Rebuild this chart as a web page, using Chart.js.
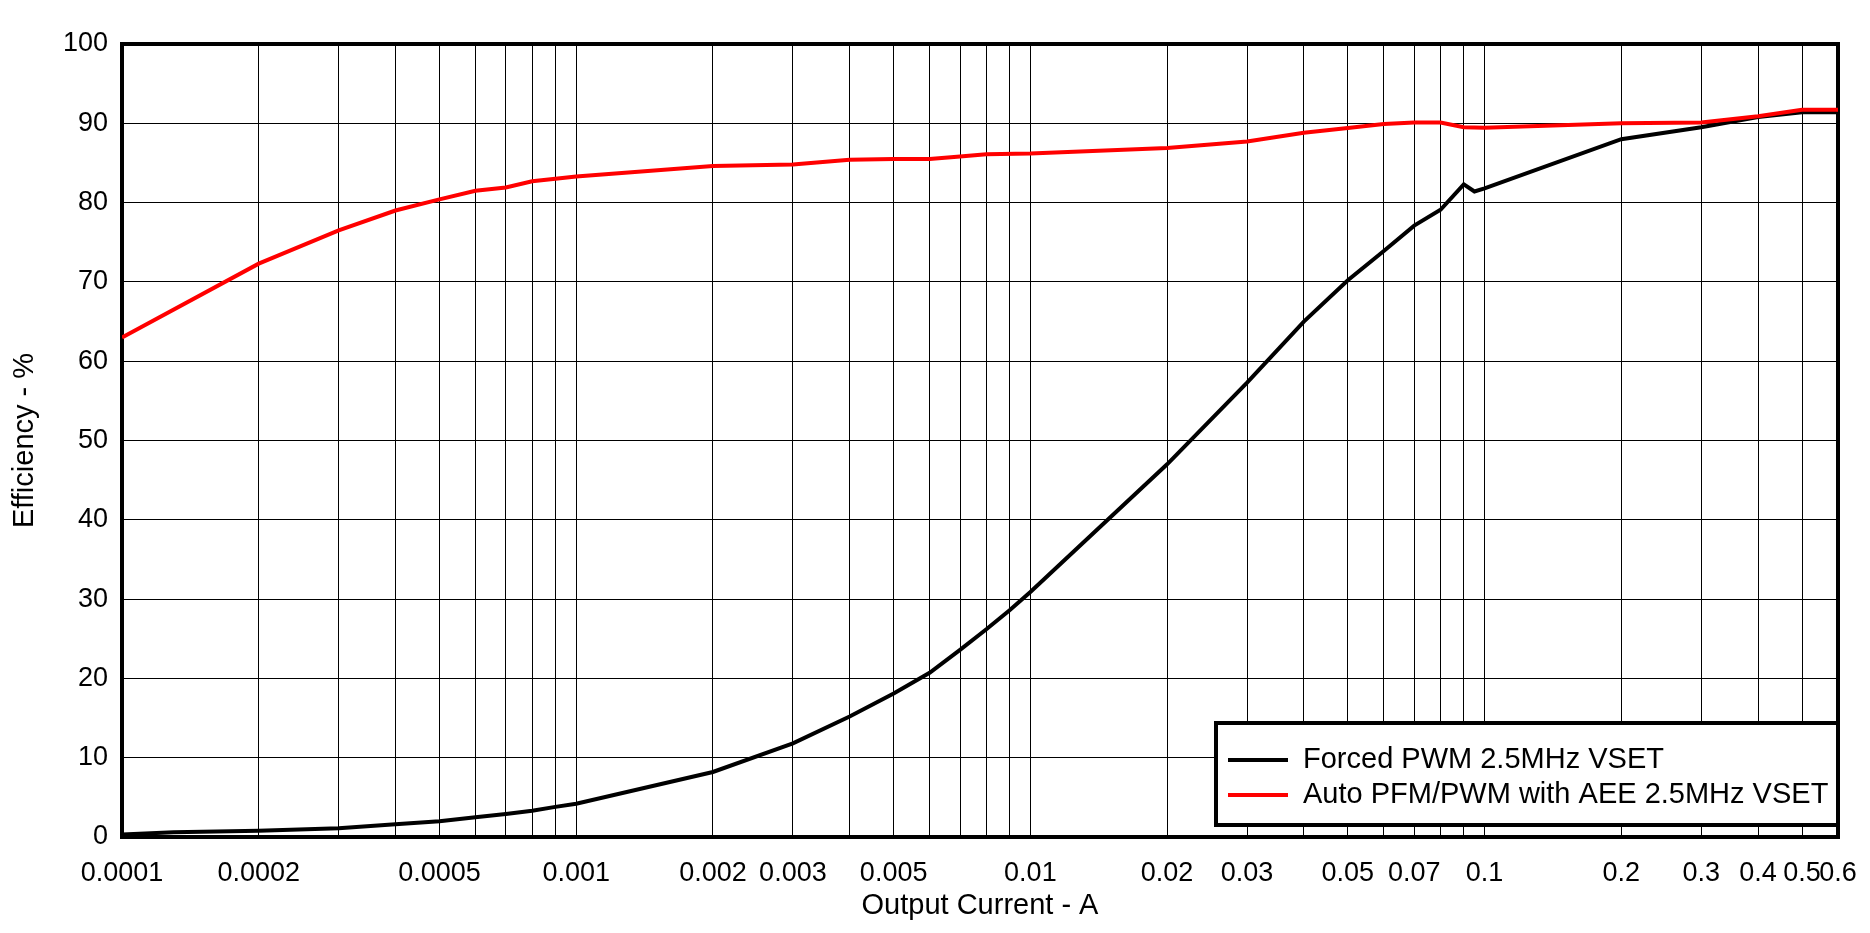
<!DOCTYPE html>
<html>
<head>
<meta charset="utf-8">
<script src="https://cdn.jsdelivr.net/npm/chart.js@4.4.1/dist/chart.umd.min.js"></script>
<style>
  body { margin: 0; background: #fff; }
  #wrap { width: 1870px; height: 933px; }
</style>
</head>
<body>
<div id="wrap"><canvas id="myChart" width="1870" height="933"></canvas></div>
<script>
// values
const forcedCurrent = [0.0001, 0.00013, 0.0002, 0.0003, 0.0004, 0.0005, 0.0006, 0.0007, 0.0008, 0.0009,
    0.001, 0.002, 0.003, 0.004, 0.005, 0.006, 0.007, 0.008, 0.009, 0.01,
    0.02, 0.03, 0.04, 0.05, 0.06, 0.07, 0.08, 0.09, 0.095, 0.1, 0.2, 0.3, 0.4, 0.5, 0.6];
const forcedEff = [0.3, 0.6, 0.8, 1.1, 1.6, 2.0, 2.5, 2.9, 3.3, 3.8,
    4.2, 8.2, 11.8, 15.2, 18.1, 20.7, 23.6, 26.2, 28.6, 30.9,
    47.0, 57.3, 65.0, 70.2, 73.9, 77.1, 79.1, 82.3, 81.4, 81.8, 88.0, 89.5, 90.8, 91.4, 91.4];

const autoCurrent = [0.0001, 0.0002, 0.0003, 0.0004, 0.0005, 0.0006, 0.0007, 0.0008, 0.0009,
    0.001, 0.002, 0.003, 0.004, 0.005, 0.006, 0.007, 0.008, 0.01,
    0.02, 0.03, 0.04, 0.05, 0.06, 0.07, 0.08, 0.09, 0.1, 0.2, 0.3, 0.4, 0.5, 0.6];
const autoEff = [63.0, 72.3, 76.5, 79.0, 80.4, 81.5, 81.9, 82.7, 83.0,
    83.3, 84.6, 84.8, 85.4, 85.5, 85.5, 85.8, 86.1, 86.2,
    86.9, 87.7, 88.8, 89.4, 89.9, 90.1, 90.1, 89.5, 89.45, 90.0, 90.1, 90.9, 91.7, 91.7];

const seriesNames = ["Forced PWM 2.5MHz VSET", "Auto PFM/PWM with AEE 2.5MHz VSET"];
const seriesColors = ["#000000", "#ff0000"];

const xTickLabels = ["0.0001", "0.0002", "0.0005", "0.001", "0.002", "0.003", "0.005",
    "0.01", "0.02", "0.03", "0.05", "0.07", "0.1", "0.2", "0.3", "0.4", "0.5", "0.6"];
const xMin = 0.0001;
const xMax = 0.6;

const fontFamily = "Arial, 'Liberation Sans', sans-serif";
const tickSize = 27;
const textSize = 29;

// one grid line for every 1..9 step of each decade
const xGrid = [];
for (let d = 0.0001; d < 1; d *= 10) {
    for (let m = 1; m <= 9; m++) {
        const v = Number((m * d).toPrecision(6));
        if (v <= xMax + 1e-9) xGrid.push(v);
    }
}

function toPoints(xs, ys) {
    return xs.map((x, i) => ({ x: x, y: ys[i] }));
}

const framePlugin = {
    id: "frame",
    beforeDatasetsDraw(chart) {
        const a = chart.chartArea;
        const ctx = chart.ctx;
        ctx.save();
        ctx.strokeStyle = "#000";
        ctx.lineWidth = 4;
        ctx.strokeRect(a.left, a.top, a.right - a.left, a.bottom - a.top);
        ctx.restore();
    }
};

const legendBox = {
    id: "legendBox",
    afterDatasetsDraw(chart) {
        const a = chart.chartArea;
        const ctx = chart.ctx;
        const w = 622, h = 102;
        const x = a.right - w, y = a.bottom - 12 - h;
        ctx.save();
        ctx.fillStyle = "#fff";
        ctx.fillRect(x, y, w, h);
        ctx.strokeStyle = "#000";
        ctx.lineWidth = 4;
        ctx.strokeRect(x, y, w, h);
        ctx.font = textSize + "px " + fontFamily;
        ctx.textBaseline = "middle";
        ctx.textAlign = "left";
        chart.data.datasets.forEach((ds, i) => {
            const ly = y + 37 + i * 35;
            ctx.strokeStyle = ds.borderColor;
            ctx.lineWidth = 4;
            ctx.beginPath();
            ctx.moveTo(x + 12, ly);
            ctx.lineTo(x + 72, ly);
            ctx.stroke();
            ctx.fillStyle = "#000";
            ctx.fillText(ds.label, x + 87, ly);
        });
        ctx.restore();
    }
};

const ctx = document.getElementById("myChart").getContext("2d");
const chart = new Chart(ctx, {
    type: "line",
    data: {
        datasets: [{
            label: seriesNames[0],
            data: toPoints(forcedCurrent, forcedEff),
            borderColor: seriesColors[0],
            borderWidth: 4,
            pointRadius: 0,
            tension: 0,
            order: 1
        }, {
            label: seriesNames[1],
            data: toPoints(autoCurrent, autoEff),
            borderColor: seriesColors[1],
            borderWidth: 4,
            pointRadius: 0,
            tension: 0,
            order: 0
        }]
    },
    options: {
        responsive: false,
        animation: false,
        events: [],
        layout: { padding: { left: 0, right: 32, top: 44, bottom: 0 } },
        plugins: {
            legend: { display: false },
            tooltip: { enabled: false }
        },
        scales: {
            x: {
                type: "logarithmic",
                min: xMin,
                max: xMax,
                afterBuildTicks: scale => {
                    scale.ticks = xGrid.map(v => ({ value: v }));
                },
                afterFit: scale => {
                    scale.height = 96;
                    scale.paddingLeft = 0;
                    scale.paddingRight = 0;
                },
                grid: { color: "#000", lineWidth: 1, drawTicks: false },
                border: { display: false },
                ticks: {
                    autoSkip: false,
                    maxRotation: 0,
                    padding: 20,
                    color: "#000",
                    font: { family: fontFamily, size: tickSize },
                    callback: function (value) {
                        const hit = xTickLabels.find(l => Math.abs(Number(l) - value) < value * 1e-6);
                        return hit || "";
                    }
                },
                title: {
                    display: true,
                    text: "Output Current - A",
                    color: "#000",
                    font: { family: fontFamily, size: textSize },
                    padding: { top: 10, bottom: 10 }
                }
            },
            y: {
                min: 0,
                max: 100,
                afterFit: scale => { scale.width = 122; },
                grid: { color: "#000", lineWidth: 1, drawTicks: false },
                border: { display: false },
                ticks: {
                    stepSize: 10,
                    padding: 14,
                    color: "#000",
                    font: { family: fontFamily, size: tickSize }
                },
                title: {
                    display: true,
                    text: "Efficiency - %",
                    color: "#000",
                    font: { family: fontFamily, size: textSize },
                    padding: { top: 8, bottom: 8 }
                }
            }
        }
    },
    plugins: [framePlugin, legendBox]
});
</script>
</body>
</html>
